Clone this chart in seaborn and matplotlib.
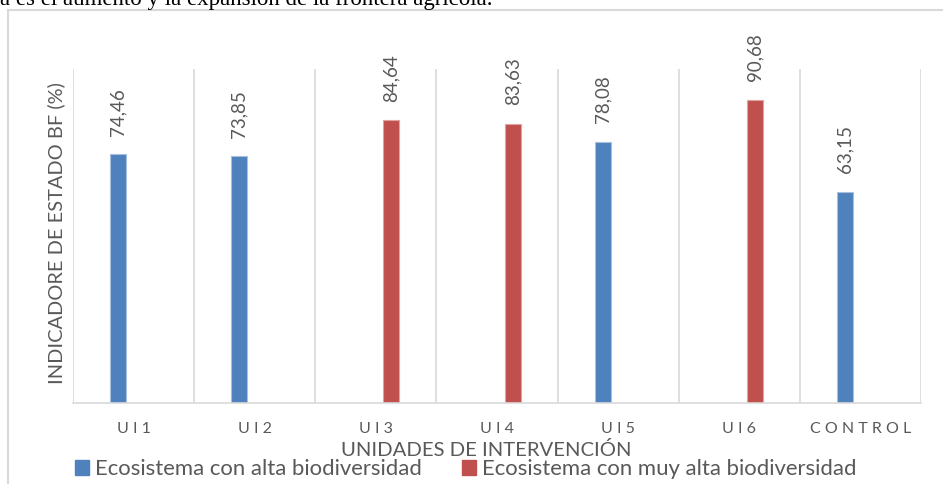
import pandas as pd
import numpy as np
import matplotlib.pyplot as plt
import seaborn as sns
from matplotlib.patches import Rectangle

# data
categorias = ['UI1', 'UI2', 'UI3', 'UI4', 'UI5', 'UI6', 'CONTROL']
etiquetas = ['U I 1', 'U I 2', 'U I 3', 'U I 4', 'U I 5', 'U I 6', 'C O N T R O L']
valores = [74.46, 73.85, 84.64, 83.63, 78.08, 90.68, 63.15]
series = ['Ecosistema con alta biodiversidad', 'Ecosistema con alta biodiversidad',
          'Ecosistema con muy alta biodiversidad', 'Ecosistema con muy alta biodiversidad',
          'Ecosistema con alta biodiversidad', 'Ecosistema con muy alta biodiversidad',
          'Ecosistema con alta biodiversidad']
niveles = ['Ecosistema con alta biodiversidad', 'Ecosistema con muy alta biodiversidad']
colores = ['#4F81BD', '#C0504D']

df = pd.DataFrame({'unidad': categorias, 'valor': valores, 'serie': series})

sns.set_style('white')
plt.rcParams['font.family'] = ['Lato', 'DejaVu Sans']
gris = '#595959'

fig = plt.figure(figsize=(9.43, 4.84), dpi=100)
ax = fig.add_axes([73 / 943, 1 - 403 / 484, (921 - 73) / 943, (403 - 69) / 484])

sns.barplot(data=df, x='unidad', y='valor', hue='serie', order=categorias,
            hue_order=niveles, palette=colores, saturation=1, dodge=True,
            width=0.512, gap=0.484, linewidth=0.8, legend=False, ax=ax)

# lighter outline per series and value labels
for cont, edge in zip(ax.containers, ['#A7C0E0', '#E3A3A1']):
    for b in cont:
        b.set_edgecolor(edge)
    etq = [('%.2f' % v).replace('.', ',') if not np.isnan(v) else '' for v in cont.datavalues]
    ax.bar_label(cont, labels=etq, rotation=90, padding=13.5, fontsize=13.5, color=gris)

ax.set_ylim(0, 100)
ax.set_xlim(-0.5, len(categorias) - 0.5)
ax.set_yticks([])
ax.set_xlabel('')
ax.set_ylabel('')
for pos in np.arange(-0.5, len(categorias), 1.0):
    ax.axvline(pos, color='#D9D9D9', lw=1.2, zorder=0)
for s in ['top', 'right', 'left']:
    ax.spines[s].set_visible(False)
ax.spines['bottom'].set_color('#D9D9D9')
ax.spines['bottom'].set_linewidth(1.2)
ax.set_xticks(range(len(categorias)))
ax.set_xticklabels(etiquetas, fontsize=11.5, color=gris)
ax.tick_params(axis='x', length=0, pad=14)

fig.text(486 / 943, 1 - 450 / 484, 'UNIDADES DE INTERVENCIÓN', ha='center', va='center',
         fontsize=14.6, color=gris)
fig.text(56 / 943, 1 - 233 / 484, 'INDICADORE DE ESTADO BF (%)', ha='center', va='center',
         rotation=90, fontsize=14.4, color=gris)

handles = [Rectangle((0, 0), 1, 1, color=c) for c in colores]
fig.legend(handles, niveles, loc='center left', bbox_to_anchor=(75 / 943, 1 - 469 / 484),
           ncol=2, frameon=False, fontsize=15.9, handlelength=0.64, handleheight=0.64,
           handletextpad=0.27, columnspacing=1.8, borderaxespad=0, borderpad=0,
           labelcolor=gris)

# chart border and the cut text line above it
fig.patches.append(Rectangle((8 / 943, -0.1), 1.1, 1.1 - 10 / 484, transform=fig.transFigure,
                             fill=False, edgecolor='#D9D9D9', lw=1.5))
fig.text(0, 1 - 4.5 / 484, 'a es el aumento y la expansión de la frontera agrícola.',
         family='Liberation Serif', fontsize=16.5, va='baseline', ha='left', color='black')

fig.savefig('out.png', dpi=100)
